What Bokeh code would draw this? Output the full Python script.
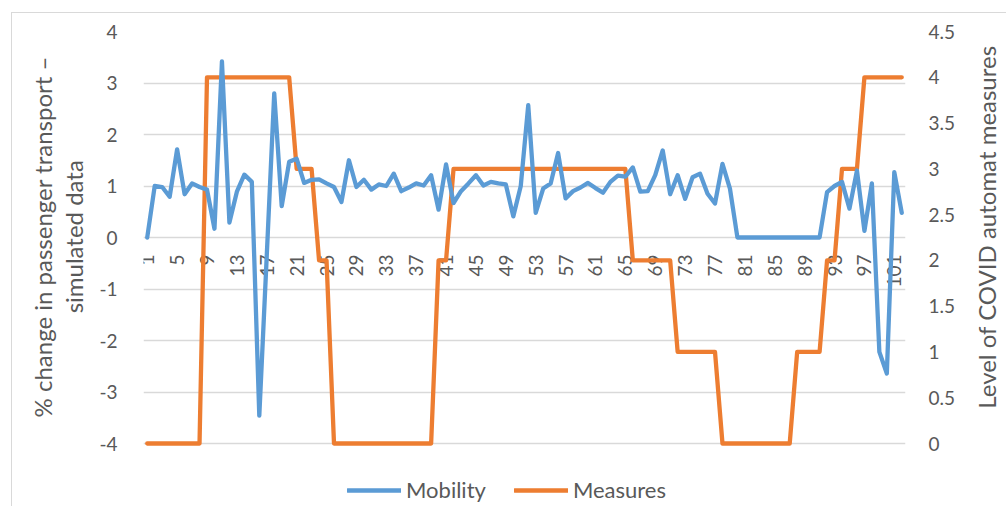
import math
from bokeh.plotting import figure
from bokeh.layouts import row
from bokeh.models import (Range1d, LinearAxis, FixedTicker, Legend, LegendItem,
                          CustomJSTickFormatter, ColumnDataSource)
from bokeh.core.properties import value
from bokeh.embed import file_html
from bokeh.resources import INLINE

# ---------------- data ----------------
categories = list(range(1, 103))

mobility = [
    0.00, 1.00, 0.98, 0.79, 1.71, 0.84, 1.05, 0.98, 0.93, 0.17,
    3.42, 0.29, 0.89, 1.22, 1.08, -3.46, -0.35, 2.80, 0.61, 1.47,
    1.53, 1.06, 1.12, 1.13, 1.05, 0.98, 0.69, 1.50, 0.98, 1.12,
    0.93, 1.03, 1.00, 1.24, 0.90, 0.97, 1.05, 1.01, 1.21, 0.54,
    1.42, 0.67, 0.90, 1.05, 1.21, 1.01, 1.08, 1.05, 1.03, 0.41,
    1.00, 2.57, 0.48, 0.95, 1.05, 1.64, 0.76, 0.90, 0.97, 1.06,
    0.96, 0.87, 1.08, 1.20, 1.18, 1.36, 0.89, 0.90, 1.21, 1.69,
    0.84, 1.21, 0.75, 1.17, 1.24, 0.85, 0.66, 1.43, 0.95, 0.00,
    0.00, 0.00, 0.00, 0.00, 0.00, 0.00, 0.00, 0.00, 0.00, 0.00,
    0.00, 0.88, 1.00, 1.08, 0.56, 1.30, 0.13, 1.05, -2.22, -2.64,
    1.27, 0.48,
]

measures = [
    0, 0, 0, 0, 0, 0, 0, 0, 4, 4,
    4, 4, 4, 4, 4, 4, 4, 4, 4, 4,
    3, 3, 3, 2, 2, 0, 0, 0, 0, 0,
    0, 0, 0, 0, 0, 0, 0, 0, 0, 2,
    2, 3, 3, 3, 3, 3, 3, 3, 3, 3,
    3, 3, 3, 3, 3, 3, 3, 3, 3, 3,
    3, 3, 3, 3, 3, 2, 2, 2, 2, 2,
    2, 1, 1, 1, 1, 1, 1, 0, 0, 0,
    0, 0, 0, 0, 0, 0, 0, 1, 1, 1,
    1, 2, 2, 3, 3, 3, 4, 4, 4, 4,
    4, 4,
]

x_tick_values = [1, 5, 9, 13, 17, 21, 25, 29, 33, 37, 41, 45, 49, 53, 57, 61,
                 65, 69, 73, 77, 81, 85, 89, 93, 97, 101]
x_tick_labels = ["1", "5", "9", "13", "17", "21", "25", "29", "33", "37", "41",
                 "45", "49", "53", "57", "61", "65", "69", "73", "77", "81",
                 "85", "89", "93", "97", "101"]
left_ticks = [-4, -3, -2, -1, 0, 1, 2, 3, 4]
right_ticks = [0, 0.5, 1, 1.5, 2, 2.5, 3, 3.5, 4, 4.5]

series_names = ["Mobility", "Measures"]
left_title_lines = ["% change in passenger transport \u2013", "simulated data"]
right_title = "Level of COVID automat measures"

# ---------------- style ----------------
FONT = "Lato"
FS = "19px"
TITLE_FS = "24px"
LEG_FS = "22px"
TXT = "#595959"
GRID = "#D9D9D9"
BLUE = "#5B9BD5"
ORANGE = "#ED7D31"
BORDER = "1px solid #d9d9d9"

H = 494            # height of every panel (window 506 minus 12 px top margin)
LEFT_W = 85        # left title strip
MAIN_W = 875       # main chart
RIGHT_W = 35       # right title strip

# plot area geometry (pixels): value area 412 px tall, with 64 px below for legend
VALUE_H = 412
BELOW_H = 64
left_lo, left_hi = -4, 4
right_lo, right_hi = 0, 4.5
left_ext = BELOW_H * (left_hi - left_lo) / VALUE_H
right_ext = BELOW_H * (right_hi - right_lo) / VALUE_H


def title_strip(width, margin, styles):
    s = figure(width=width, height=H, x_range=Range1d(0, width), y_range=Range1d(0, H),
               output_backend="svg", toolbar_location=None, x_axis_location=None,
               y_axis_location=None, min_border=0, margin=margin)
    s.styles = styles
    s.outline_line_color = None
    s.grid.visible = False
    s.border_fill_color = "white"
    return s


# ---- left title strip ----
p0 = title_strip(LEFT_W, (12, 0, 0, 11), {"border-left": BORDER, "border-top": BORDER})
p0.text(x=[30, 61], y=[H - (225 - 12)] * 2, text=left_title_lines, angle=math.pi / 2,
        text_align="center", text_baseline="middle",
        text_font=value(FONT), text_font_size=TITLE_FS, text_color=TXT)

# ---- main chart ----
p = figure(width=MAIN_W, height=H,
           x_range=Range1d(0.5, 102.5),
           y_range=Range1d(left_lo - left_ext, left_hi),
           output_backend="svg", toolbar_location=None, x_axis_location=None,
           min_border_left=45, min_border_right=66, min_border_top=18,
           min_border_bottom=0, margin=(12, 0, 0, 0))
p.styles = {"border-top": BORDER}
p.outline_line_color = None
p.background_fill_color = "white"
p.border_fill_color = "white"
p.extra_y_ranges = {"right": Range1d(right_lo - right_ext, right_hi)}

p.xgrid.visible = False
p.ygrid.ticker = FixedTicker(ticks=left_ticks)
p.ygrid.grid_line_color = GRID
p.ygrid.grid_line_width = 1.3

ya = p.yaxis[0]
ya.ticker = FixedTicker(ticks=left_ticks)
ya.formatter = CustomJSTickFormatter(code="return String(tick)")
ya.axis_line_color = None
ya.major_tick_line_color = None
ya.minor_tick_line_color = None
ya.major_tick_out = 0
ya.major_label_standoff = 26
ya.major_label_text_font = FONT
ya.major_label_text_font_size = FS
ya.major_label_text_color = TXT

ra = LinearAxis(y_range_name="right", ticker=FixedTicker(ticks=right_ticks),
                formatter=CustomJSTickFormatter(code="return String(tick)"))
ra.axis_line_color = None
ra.major_tick_line_color = None
ra.minor_tick_line_color = None
ra.major_tick_out = 0
ra.major_label_standoff = 23
ra.major_label_text_font = FONT
ra.major_label_text_font_size = FS
ra.major_label_text_color = TXT
p.add_layout(ra, "right")

# category labels along the zero line
label_y = -17 * (left_hi - left_lo) / VALUE_H
p.text(x=x_tick_values, y=[label_y] * len(x_tick_values), text=x_tick_labels,
       angle=math.pi / 2, text_align="right", text_baseline="middle",
       text_font=value(FONT), text_font_size=FS, text_color=TXT)

src = ColumnDataSource(dict(x=categories, mob=mobility, mea=measures))
r_mea = p.line("x", "mea", source=src, y_range_name="right", line_color=ORANGE,
               line_width=4.3, line_join="round", line_cap="round")
r_mob = p.line("x", "mob", source=src, line_color=BLUE, line_width=4.3,
               line_join="round", line_cap="round")

legend = Legend(items=[LegendItem(label=series_names[0], renderers=[r_mob]),
                       LegendItem(label=series_names[1], renderers=[r_mea])],
                location=(204, 4), orientation="horizontal",
                border_line_color=None, background_fill_alpha=0,
                padding=2, margin=0, spacing=28, label_standoff=5,
                glyph_width=54, glyph_height=20,
                label_text_font=FONT, label_text_font_size=LEG_FS,
                label_text_color=TXT)
p.add_layout(legend, "center")

# ---- right title strip (reads bottom-to-top like the reference) ----
p2 = title_strip(RIGHT_W, (12, 0, 0, 0), {"border-top": BORDER})
p2.text(x=[15], y=[H - (215 - 12)], text=[right_title], angle=math.pi / 2,
        text_align="center", text_baseline="middle",
        text_font=value(FONT), text_font_size=TITLE_FS, text_color=TXT)

layout = row(p0, p, p2, spacing=0)
open("out.html", "w").write(file_html(layout, INLINE))
